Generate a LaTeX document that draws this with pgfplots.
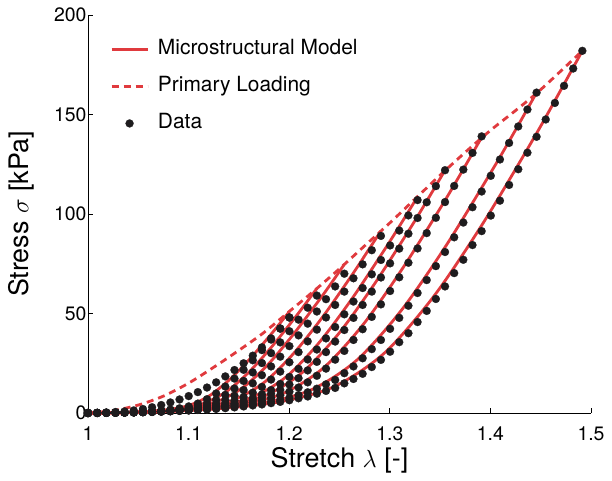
\documentclass[border=0pt]{standalone}
\usepackage{fontspec}
\setmainfont{TeX Gyre Heros}
\usepackage{pgfplots}
\usepackage{pgfplotstable}
\pgfplotsset{compat=1.18}
\definecolor{modelred}{RGB}{224,58,62}
\definecolor{dotblack}{RGB}{30,28,30}

\pgfplotstableread{
x      p0   c1   c2   c3   c4   c5   c6   c7   c8   c9
1.0000 0    0    0    0    0    0    0    0    0    0
1.0091 0.1  0.02 0.02 0.02 0.02 0.02 0.02 0.03 0.03 0.03
1.0182 0.3  0.07 0.07 0.06 0.06 0.05 0.05 0.05 0.05 0.05
1.0273 0.5  0.15 0.14 0.13 0.13 0.13 0.14 0.12 0.11 0.1
1.0364 0.8  0.26 0.25 0.23 0.23 0.21 0.21 0.2  0.19 0.18
1.0455 1.3  0.41 0.38 0.36 0.36 0.34 0.33 0.31 0.27 0.26
1.0546 2.0  0.62 0.56 0.53 0.50 0.49 0.47 0.44 0.40 0.37
1.0637 2.9  0.89 0.81 0.72 0.70 0.66 0.66 0.61 0.53 0.51
1.0728 4.0  1.25 1.12 1.00 0.92 0.88 0.86 0.79 0.71 0.64
1.0819 5.3  1.71 1.49 1.34 1.23 1.10 1.09 1.0  0.89 0.83
1.0910 6.8  2.37 1.95 1.74 1.58 1.43 1.36 1.25 1.10 1.03
1.1001 8.5  3.33 2.63 2.21 2.00 1.79 1.72 1.53 1.35 1.24
1.1092 10.5 4.75 3.58 2.88 2.51 2.24 2.12 1.88 1.59 1.49
1.1183 12.8 6.94 4.86 3.75 3.10 2.73 2.59 2.26 1.93 1.75
1.1274 15.4 9.80 6.63 4.86 3.90 3.31 3.11 2.75 2.30 2.06
1.1365 18.4 13.3 9.09 6.49 4.96 4.04 3.72 3.23 2.70 2.44
1.1456 21.6 17.3 12.3 8.70 6.18 4.90 4.46 3.85 3.20 2.82
1.1547 25.0 21.7 16.1 11.5 7.99 6.12 5.38 4.46 3.70 3.3
1.1638 28.8 26.5 20.4 14.9 10.2 7.43 6.51 5.33 4.30 3.8
1.1729 33.0 31.6 25.1 19.0 13.1 9.36 7.9  6.27 4.94 4.3
1.1820 37.5 36.9 30.1 23.4 16.8 11.5 9.6  7.5  5.70 4.95
1.1911 42.5 42.4 35.5 28.3 20.8 14.6 11.6 8.9  6.63 5.6
1.2002 48   48   41.1 33.6 25.5 18.1 14.3 10.7 7.58 6.4
1.2093 nan  nan  46.9 39.0 30.6 22.2 17.5 12.8 9.0  7.4
1.2184 nan  nan  52.9 44.9 36.0 26.9 21.4 15.4 10.4 8.3
1.2275 nan  nan  59   51.0 41.9 31.9 25.7 18.7 12.2 9.7
1.2366 nan  nan  nan  57.2 48.0 37.5 30.6 22.3 14.4 11.1
1.2457 nan  nan  nan  63.6 54.3 43.2 35.9 26.8 16.6 12.6
1.2548 nan  nan  nan  70   61.0 49.6 41.7 31.2 20.0 14.9
1.2639 nan  nan  nan  nan  67.7 56.0 47.8 36.7 23.4 17.1
1.2730 nan  nan  nan  nan  74.7 62.8 54.3 42.1 27.5 19.7
1.2821 nan  nan  nan  nan  81.8 69.7 61.0 48.3 32.1 23.1
1.2912 nan  nan  nan  nan  89   76.9 68.1 54.6 36.7 26.7
1.3003 nan  nan  nan  nan  nan  84.2 75.2 61.3 42.3 30.8
1.3094 nan  nan  nan  nan  nan  91.7 82.6 68.2 47.8 35.6
1.3185 nan  nan  nan  nan  nan  99.3 90.1 75.5 53.9 40.1
1.3276 nan  nan  nan  nan  nan  107  98.0 82.7 60.3 45.7
1.3367 nan  nan  nan  nan  nan  nan  105.9 90.4 66.8 51.3
1.3458 nan  nan  nan  nan  nan  nan  114.0 98.1 73.8 57.3
1.3549 nan  nan  nan  nan  nan  nan  122  106.0 80.9 63.6
1.3640 nan  nan  nan  nan  nan  nan  nan  114.1 88.3 70.3
1.3731 nan  nan  nan  nan  nan  nan  nan  122.3 95.7 77.0
1.3822 nan  nan  nan  nan  nan  nan  nan  130.7 103.4 84.4
1.3913 nan  nan  nan  nan  nan  nan  nan  139  111.3 91.4
1.4004 nan  nan  nan  nan  nan  nan  nan  nan  119.2 99.2
1.4095 nan  nan  nan  nan  nan  nan  nan  nan  127.4 106.7
1.4186 nan  nan  nan  nan  nan  nan  nan  nan  135.7 114.6
1.4277 nan  nan  nan  nan  nan  nan  nan  nan  144.0 122.5
1.4368 nan  nan  nan  nan  nan  nan  nan  nan  152.5 130.8
1.4459 nan  nan  nan  nan  nan  nan  nan  nan  161  138.8
1.4550 nan  nan  nan  nan  nan  nan  nan  nan  nan  147.5
1.4641 nan  nan  nan  nan  nan  nan  nan  nan  nan  155.8
1.4732 nan  nan  nan  nan  nan  nan  nan  nan  nan  164.4
1.4823 nan  nan  nan  nan  nan  nan  nan  nan  nan  173.1
1.4914 nan  nan  nan  nan  nan  nan  nan  nan  nan  182
}\datatable

\begin{document}
\begin{tikzpicture}
\begin{axis}[
  scale only axis, width=503bp, height=398bp,
  xmin=1, xmax=1.5, ymin=0, ymax=200,
  axis x line*=bottom, axis y line*=left,
  axis line style={-, line width=0.9bp, black},
  xtick={1,1.1,1.2,1.3,1.4,1.5}, ytick={0,50,100,150,200},
  tick align=inside, major tick length=5bp,
  every tick/.style={black, line width=0.9bp},
  /pgf/number format/assume math mode=true,
  tick label style={font=\fontsize{19.5}{23}\selectfont},
  xticklabel style={yshift=-10.5bp},
  yticklabel style={xshift=2bp},
  xlabel={Stretch $\lambda$ [-]}, ylabel={Stress $\sigma$ [kPa]},
  label style={font=\fontsize{27}{32}\selectfont},
  xlabel style={at={(axis description cs:0.5,-0.12)}, anchor=center},
  ylabel style={at={(axis description cs:-0.133,0.5)}, anchor=center},
  clip=false,
  legend cell align=left,
  legend style={at={(axis description cs:0.0437,0.9435)}, anchor=north west,
    draw=none, fill=none, inner sep=0pt, row sep=13.5bp,
    font=\fontsize{21}{25}\selectfont,
    nodes={inner sep=2bp, text height=15bp, text depth=4.5bp},
    /tikz/every odd column/.style={column sep=7bp}},
  legend image code/.code={\draw[mark repeat=2,mark phase=2,#1] plot coordinates {(0bp,0bp) (18bp,0bp) (36bp,0bp)};},
  model/.style={modelred, line width=2.8bp, smooth},
  dots/.style={only marks, mark=*, mark size=4bp, mark options={draw=dotblack, fill=dotblack, line width=0.2bp}},
]
\coordinate (o) at (rel axis cs:0,0);
% model curves
\addplot[model] coordinates {(1,0) (1.0200,0.08) (1.0400,0.33) (1.0601,0.82) (1.0801,1.73) (1.1001,3.77) (1.1201,8.47) (1.1401,16.5) (1.1602,26.8) (1.1802,38.5) (1.1902,44.7) (1.2002,51)};
\addlegendentry{Microstructural Model}
\addplot[model, forget plot] coordinates {(1,0) (1.0228,0.10) (1.0455,0.41) (1.0683,1.00) (1.0910,2.13) (1.1138,4.63) (1.1365,10.4) (1.1593,20.2) (1.1820,32.9) (1.2048,47.3) (1.2161,54.8) (1.2275,62.6)};
\addplot[model, forget plot] coordinates {(1,0) (1.0255,0.12) (1.0510,0.49) (1.0764,1.20) (1.1019,2.54) (1.1274,5.53) (1.1529,12.4) (1.1784,24.1) (1.2038,39.3) (1.2293,56.4) (1.2421,65.4) (1.2548,74.7)};
\addplot[model, forget plot] coordinates {(1,0) (1.0291,0.15) (1.0582,0.59) (1.0874,1.46) (1.1165,3.11) (1.1456,6.77) (1.1747,15.2) (1.2038,29.6) (1.2330,48.1) (1.2621,69.1) (1.2766,80.2) (1.2912,91.5)};
\addplot[model, forget plot] coordinates {(1,0) (1.0328,0.17) (1.0655,0.71) (1.0983,1.74) (1.1310,3.70) (1.1638,8.04) (1.1966,18.0) (1.2293,35.1) (1.2621,57.2) (1.2948,82.1) (1.3112,95.2) (1.3276,108.7)};
\addplot[model, forget plot] coordinates {(1,0) (1.0355,0.20) (1.0710,0.79) (1.1065,1.95) (1.1420,4.15) (1.1775,9.03) (1.2129,20.3) (1.2484,39.4) (1.2839,64.2) (1.3194,92.1) (1.3372,106.9) (1.3549,122)};
\addplot[model, forget plot] coordinates {(1,0) (1.0391,0.22) (1.0783,0.90) (1.1174,2.22) (1.1565,4.71) (1.1957,10.2) (1.2348,23.0) (1.2739,44.7) (1.3130,72.9) (1.3522,104.6) (1.3717,121.3) (1.3913,138.5)};
\addplot[model, forget plot] coordinates {(1,0) (1.0446,0.26) (1.0892,1.05) (1.1338,2.58) (1.1784,5.47) (1.2230,11.9) (1.2675,26.7) (1.3121,52.0) (1.3567,84.7) (1.4013,121.6) (1.4236,141.0) (1.4459,161)};
\addplot[model, forget plot] coordinates {(1,0) (1.0491,0.29) (1.0983,1.18) (1.1474,2.91) (1.1966,6.19) (1.2457,13.5) (1.2948,30.2) (1.3440,58.8) (1.3931,95.7) (1.4423,137.4) (1.4668,159.4) (1.4914,182)};
% primary loading
\addplot[modelred, line width=2.8bp, dash pattern=on 7bp off 5bp, smooth] coordinates {(1,0) (1.025,1.2) (1.05,4) (1.075,8.5) (1.1,15) (1.125,23) (1.15,31.5) (1.175,40.5) (1.2,51) (1.225,61.5) (1.25,72.5) (1.275,84) (1.3,95.5) (1.325,107.5) (1.35,119.5) (1.375,131) (1.4,142) (1.425,152) (1.45,162.5) (1.4914,182)};
\addlegendentry{Primary Loading}
% data
\addplot[dots] table[x=x, y=p0] {\datatable};
\addlegendentry{Data}
\addplot[dots, forget plot] table[x=x, y=c1] {\datatable};
\addplot[dots, forget plot] table[x=x, y=c2] {\datatable};
\addplot[dots, forget plot] table[x=x, y=c3] {\datatable};
\addplot[dots, forget plot] table[x=x, y=c4] {\datatable};
\addplot[dots, forget plot] table[x=x, y=c5] {\datatable};
\addplot[dots, forget plot] table[x=x, y=c6] {\datatable};
\addplot[dots, forget plot] table[x=x, y=c7] {\datatable};
\addplot[dots, forget plot] table[x=x, y=c8] {\datatable};
\addplot[dots, forget plot] table[x=x, y=c9] {\datatable};
\end{axis}
\pgfresetboundingbox
\path (o) ++(-88bp,-68bp) rectangle ++(612bp,481bp);
\end{tikzpicture}
\end{document}
